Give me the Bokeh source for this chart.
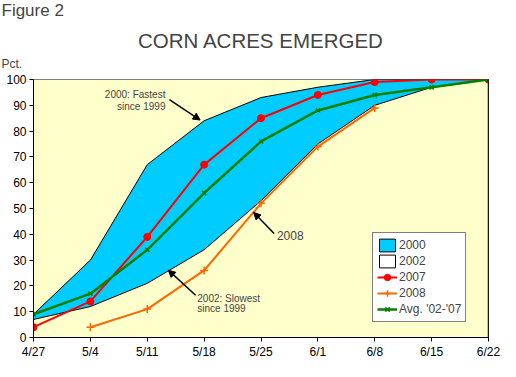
import math
from bokeh.plotting import figure
from bokeh.models import (Range1d, FixedTicker, Label, Arrow, NormalHead,
                          Legend, LegendItem, Span, Title)
from bokeh.embed import file_html
from bokeh.resources import INLINE

# ---- data ----
dates = ["4/27", "5/4", "5/11", "5/18", "5/25", "6/1", "6/8", "6/15", "6/22"]
pct_2000 = [9, 30, 67, 84, 93, 97, 100, 100, 100]
pct_2002 = [7, 12, 21, 34, 53, 75, 90, 97, 100]
pct_2007 = [4, 14, 39, 67, 85, 94, 99, 100, 100]
nan = float("nan")
pct_2008 = [nan, 4, 11, 26, 52, 74, 89, nan, nan]
pct_avg = [9, 17, 34, 56, 76, 88, 94, 97, 100]
y_ticks = [0, 10, 20, 30, 40, 50, 60, 70, 80, 90, 100]

FONT = "Liberation Sans"
x = list(range(len(dates)))

p = figure(width=500, height=361, output_backend="svg", toolbar_location=None,
           title=None,
           x_range=Range1d(0, len(dates) - 1), y_range=Range1d(0, 100),
           min_border_left=33, min_border_right=12, min_border_top=0,
           min_border_bottom=20,
           background_fill_color="#FFFFCC", border_fill_color="white",
           outline_line_color="#808080")
p.grid.visible = False

# header texts (stacked upward from the plot area)
p.add_layout(Title(text="Pct.", text_font=FONT, text_font_size="12px",
                   text_font_style="normal", align="left", offset=-32,
                   vertical_align="bottom", standoff=18), "above")
p.add_layout(Title(text="CORN ACRES EMERGED", text_font=FONT,
                   text_font_size="20.5px", text_font_style="normal",
                   align="center", vertical_align="bottom", standoff=-13),
             "above")
p.add_layout(Title(text="\u00a0", text_font=FONT, text_font_size="12px",
                   vertical_align="bottom", standoff=0), "above")
p.add_layout(Title(text="Figure 2", text_font=FONT, text_font_size="17px",
                   text_font_style="normal", align="left", offset=-32,
                   vertical_align="bottom", standoff=-4), "above")

# legend proxy for 2002 (white swatch), hidden under the real areas
r2002_leg = p.patch(x + [x[-1], x[0]], pct_2002 + [0, 0], fill_color="white",
                    line_color="black", line_width=1, level="underlay")
# areas
r2000 = p.patch(x + [x[-1], x[0]], pct_2000 + [0, 0], fill_color="#00CCFF",
                line_color="black", line_width=1)
r2002 = p.patch(x + [x[-1], x[0]], pct_2002 + [0, 0], fill_color="#FFFFCC",
                line_color="black", line_width=1)

# lines
l2008 = p.line(x, pct_2008, line_color="#FF6600", line_width=2)
m2008 = p.scatter(x, pct_2008, marker="cross", size=8, line_color="#FF6600",
                  line_width=1.5)
l2007 = p.line(x, pct_2007, line_color="#FF0000", line_width=2)
m2007 = p.scatter(x, pct_2007, marker="circle", size=7, fill_color="#FF0000",
                  line_color="#FF0000")
lavg = p.line(x, pct_avg, line_color="#008000", line_width=2.5)
mavg = p.scatter(x, pct_avg, marker="x", size=6, line_color="#008000",
                 line_width=1.5)

p.add_layout(Span(location=len(dates) - 1, dimension="height",
                  line_color="black", line_width=1.5))

# axes
for ax in (p.xaxis[0], p.yaxis[0]):
    ax.axis_line_color = "black"
    ax.major_tick_line_color = "black"
    ax.major_tick_in = 0
    ax.major_tick_out = 4
    ax.minor_tick_line_color = None
    ax.major_label_text_font = FONT
    ax.major_label_text_font_size = "12px"
    ax.major_label_text_color = "black"
    ax.major_label_standoff = 3
p.xaxis.ticker = FixedTicker(ticks=x)
p.xaxis.major_label_overrides = {i: d for i, d in enumerate(dates)}
p.yaxis.ticker = FixedTicker(ticks=y_ticks)

# legend
legend = Legend(items=[
    LegendItem(label="2000", renderers=[r2000]),
    LegendItem(label="2002", renderers=[r2002_leg]),
    LegendItem(label="2007", renderers=[l2007, m2007]),
    LegendItem(label="2008", renderers=[l2008, m2008]),
    LegendItem(label="Avg. '02-'07", renderers=[lavg, mavg]),
], location=(339, 15), orientation="vertical",
    label_text_font=FONT, label_text_font_size="12px",
    label_standoff=2, glyph_width=20, glyph_height=16, label_height=16,
    spacing=0, padding=4, margin=0,
    border_line_color="black", border_line_width=1,
    background_fill_color="white", background_fill_alpha=1)
p.add_layout(legend)

# annotations
def note(xv, yv, txt, align, size="10px"):
    p.add_layout(Label(x=xv, y=yv, text=txt, text_font=FONT,
                       text_font_size=size, text_align=align,
                       text_baseline="alphabetic"))

note(2.32, 94.0, "2000: Fastest", "right")
note(2.32, 89.7, "since 1999", "right")
note(2.88, 15.1, "2002: Slowest", "left")
note(2.88, 11.2, "since 1999", "left")
note(4.28, 39.6, "2008", "left", "12px")

for (x0, y0, x1, y1) in [(2.39, 92.2, 2.93, 84.3),
                         (2.85, 16.4, 2.37, 26.1),
                         (4.23, 40.3, 3.87, 48.5)]:
    p.add_layout(Arrow(x_start=x0, y_start=y0, x_end=x1, y_end=y1,
                       line_color="black", line_width=1.5,
                       end=NormalHead(size=7, fill_color="black",
                                      line_color="black")))

open("out.html", "w").write(file_html(p, INLINE))
